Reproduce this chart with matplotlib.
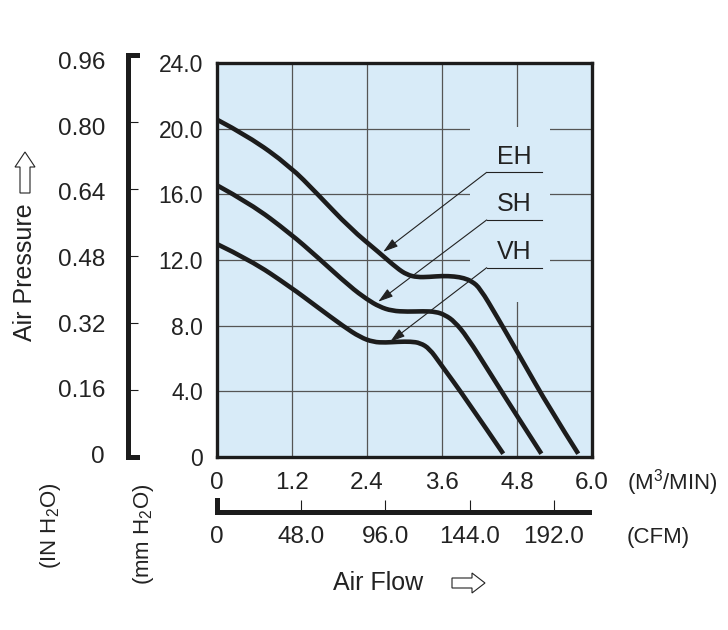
import matplotlib
matplotlib.use('Agg')
import matplotlib.pyplot as plt
from matplotlib.patches import Polygon, Rectangle, PathPatch
from matplotlib.path import Path

# ---------------- data ----------------
flow_ticks = [0, 1.2, 2.4, 3.6, 4.8, 6.0]
flow_labels = ['0', '1.2', '2.4', '3.6', '4.8', '6.0']
mm_ticks = [0, 4, 8, 12, 16, 20, 24]
mm_labels = ['0', '4.0', '8.0', '12.0', '16.0', '20.0', '24.0']
in_ticks = [0, 0.16, 0.32, 0.48, 0.64, 0.80, 0.96]
in_labels = ['0', '0.16', '0.32', '0.48', '0.64', '0.80', '0.96']
cfm_ticks = [0, 48, 96, 144, 192]
cfm_labels = ['0', '48.0', '96.0', '144.0', '192.0']

eh_x = [0, 0.5, 1.17, 1.6, 2.13, 2.61, 2.88, 3.04, 3.2, 3.4, 3.6, 3.8, 3.95, 4.08, 4.21, 4.48, 4.85, 5.33, 5.78]
eh_y = [20.55, 19.55, 17.7, 16.05, 13.93, 12.4, 11.5, 11.1, 10.95, 10.97, 11.03, 11.0, 10.9, 10.7, 10.27, 8.55, 6.1, 2.9, 0.2]
sh_x = [0, 0.53, 1.17, 1.6, 2.13, 2.4, 2.6, 2.8, 3.05, 3.3, 3.5, 3.65, 3.8, 4.0, 4.37, 4.74, 5.19]
sh_y = [16.55, 15.45, 13.62, 12.2, 10.37, 9.6, 9.15, 8.9, 8.85, 8.88, 8.85, 8.65, 8.25, 7.33, 5.1, 2.86, 0.2]
vh_x = [0, 0.53, 1.17, 1.6, 2.03, 2.29, 2.5, 2.7, 2.9, 3.1, 3.25, 3.4, 3.57, 4.0, 4.58]
vh_y = [12.97, 12.0, 10.37, 9.15, 7.94, 7.3, 7.0, 6.97, 7.02, 7.03, 6.95, 6.6, 5.7, 3.45, 0.2]

series_names = ['EH', 'SH', 'VH']
label_pos = [(4.75, 18.29), (4.75, 15.41), (4.75, 12.5)]
leader_start = [(4.315, 17.34), (4.315, 14.44), (4.315, 11.53)]
leader_end_x = 5.205
arrow_tip = [(2.66, 12.5), (2.58, 9.46), (2.77, 7.02)]

IN_TO_MM = 25.0

# ---------------- style ----------------
plt.rcParams['font.family'] = ['Liberation Sans', 'DejaVu Sans']
plt.rcParams['mathtext.fontset'] = 'custom'
plt.rcParams['mathtext.rm'] = 'Liberation Sans'
plt.rcParams['mathtext.default'] = 'regular'

W, H = 728, 630
BG = '#d8ebf8'
GRID = '#555555'
INK = '#1c1c1c'
TXT = '#222222'

fig = plt.figure(figsize=(W / 100, H / 100), dpi=100)


def fr(x0, y0, x1, y1):
    return [x0 / W, 1 - y1 / H, (x1 - x0) / W, (y1 - y0) / H]


def fp(x, y):
    return (x / W, 1 - y / H)


def smooth_path(xs, ys):
    # quadratic B-spline style path through the read points (curved drawing)
    pts = list(zip(xs, ys))
    verts = [pts[0]]
    codes = [Path.MOVETO]
    for i in range(1, len(pts) - 1):
        mid = ((pts[i][0] + pts[i + 1][0]) / 2, (pts[i][1] + pts[i + 1][1]) / 2)
        if i == len(pts) - 2:
            mid = pts[-1]
        verts += [pts[i], mid]
        codes += [Path.CURVE3, Path.CURVE3]
    return Path(verts, codes)


# ---------------- main axes ----------------
ax = fig.add_axes(fr(217, 63, 592, 457))
ax.set_xlim(0, 6)
ax.set_ylim(0, 24)
ax.set_facecolor(BG)
for xv in flow_ticks[1:-1]:
    ax.axvline(xv, color=GRID, lw=0.9, zorder=1)
for yv in mm_ticks[1:-1]:
    ax.axhline(yv, color=GRID, lw=0.9, zorder=1)
ax.add_patch(Rectangle((4.05, 9.45), 1.28, 10.67, facecolor=BG, edgecolor='none', zorder=1.5))

for xs, ys in [(eh_x, eh_y), (sh_x, sh_y), (vh_x, vh_y)]:
    ax.add_patch(PathPatch(smooth_path(xs, ys), facecolor='none', edgecolor=INK, lw=3.3,
                           joinstyle='round', capstyle='butt', zorder=3))

for name, (tx, ty), (sx, sy), (px, py) in zip(series_names, label_pos, leader_start, arrow_tip):
    ax.plot([sx, leader_end_x], [sy, sy], color=TXT, lw=0.8, zorder=4)
    ax.annotate('', xy=(px, py), xytext=(sx, sy),
                arrowprops=dict(arrowstyle='-|>,head_length=0.9,head_width=0.28',
                                lw=0.8, color=TXT, shrinkA=0, shrinkB=0), zorder=4)
    ax.text(tx, ty, name, ha='center', va='center', fontsize=18, color=TXT, zorder=4)

ax.set_xticks(flow_ticks)
ax.set_xticklabels(flow_labels)
ax.set_yticks(mm_ticks)
ax.set_yticklabels(mm_labels)
ax.tick_params(axis='both', length=0, colors=TXT)
ax.tick_params(axis='y', pad=10, labelsize=16.5)
ax.tick_params(axis='x', pad=11, labelsize=17.5)
for s in ax.spines.values():
    s.set_linewidth(2.4)
    s.set_color(INK)
    s.set_zorder(5)

# IN H2O labels
for v, lab in zip(in_ticks, in_labels):
    ax.text(-1.79, v * IN_TO_MM, lab, ha='right', va='center', fontsize=17.5, color=TXT, clip_on=False)

# ---------------- left bracket axis (IN H2O) ----------------
bx = fig.add_axes(fr(128, 55, 137, 457))
bx.set_ylim(0, 0.96)
bx.set_xlim(0, 1)
bx.patch.set_alpha(0)
bx.set_xticks([])
bx.set_yticks(in_ticks[1:-1])
bx.tick_params(axis='y', direction='in', length=7, width=0.8, colors=INK, labelleft=False)
bx.spines['right'].set_visible(False)
for k in ['left', 'top', 'bottom']:
    bx.spines[k].set_linewidth(3.6)
    bx.spines[k].set_color(INK)
    bx.spines[k].set_capstyle('projecting')

# ---------------- CFM axis ----------------
cx = fig.add_axes(fr(217, 500, 589, 512))
cx.set_xlim(0, 212)
cx.set_ylim(0, 1)
cx.patch.set_alpha(0)
cx.set_yticks([])
cx.set_xticks(cfm_ticks)
cx.set_xticklabels(cfm_labels)
cx.tick_params(axis='x', direction='in', length=8.6, width=0.8, colors=INK, labelcolor=TXT,
               labelsize=17.5, pad=10)
cx.spines['right'].set_visible(False)
cx.spines['top'].set_visible(False)
for k in ['left', 'bottom']:
    cx.spines[k].set_linewidth(3.6)
    cx.spines[k].set_color(INK)
    cx.spines[k].set_capstyle('projecting')

# ---------------- free texts ----------------
fig.text(*fp(672, 483), '(M$^3$/MIN)', ha='center', va='center', fontsize=16, color=TXT)
fig.text(*fp(658, 538), '(CFM)', ha='center', va='center', fontsize=16, color=TXT)
fig.text(*fp(378, 583), 'Air Flow', ha='center', va='center', fontsize=18, color=TXT)
fig.text(*fp(25, 272), 'Air Pressure', ha='center', va='center', rotation=90, fontsize=18, color=TXT)
fig.text(*fp(50, 526), '(IN H$_2$O)', ha='center', va='center', rotation=90, fontsize=16, color=TXT)
fig.text(*fp(144, 534), '(mm H$_2$O)', ha='center', va='center', rotation=90, fontsize=16, color=TXT)

# outline arrows
up = [(25, 152), (35, 167), (30, 167), (30, 193), (20, 193), (20, 167), (15, 167)]
right = [(485, 583), (472, 573), (472, 578), (452, 578), (452, 588), (472, 588), (472, 593)]
for pts in (up, right):
    fig.add_artist(Polygon([fp(x, y) for x, y in pts], closed=True, facecolor='white',
                           edgecolor=TXT, lw=0.8, transform=fig.transFigure))

fig.savefig('out.png', dpi=100)
